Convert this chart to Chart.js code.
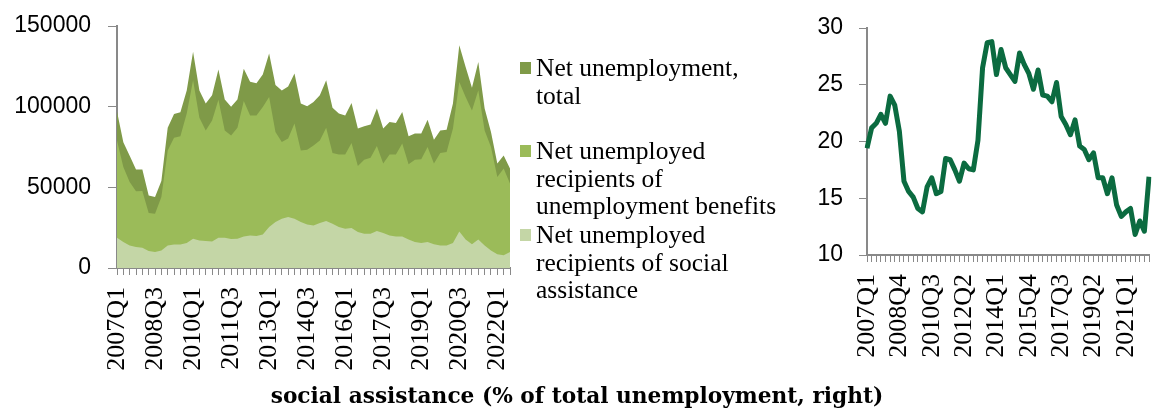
<!DOCTYPE html>
<html>
<head>
<meta charset="utf-8">
<script src="https://cdn.jsdelivr.net/npm/chart.js@4.4.1/dist/chart.umd.min.js"></script>
<style>
  html, body { margin: 0; padding: 0; background: #fff; }
  #wrap { position: relative; width: 1154px; height: 410px; overflow: hidden; }
  #left { position: absolute; left: 0; top: 0; }
  #right { position: absolute; left: 780px; top: 0; }
  .item { position: absolute; left: 520px; font-family: "Liberation Serif", serif; font-size: 25.5px; line-height: 27.5px; color: #000; }
  .item .sw { position: absolute; left: 0; top: 8px; width: 11px; height: 12px; }
  .item .tx { padding-left: 16px; white-space: nowrap; }
  #title { position: absolute; left: 0; top: 384px; width: 1154px; text-align: center; font-family: "DejaVu Serif", serif; font-weight: bold; font-size: 21.7px; line-height: 24px; color: #000; }
</style>
</head>
<body>
<div id="wrap">
  <canvas id="left" width="530" height="410"></canvas>
  <canvas id="right" width="374" height="410"></canvas>

  <div class="item" style="top:54px"><span class="sw" style="background:#7f9a48"></span><div class="tx">Net unemployment,<br>total</div></div>
  <div class="item" style="top:137px"><span class="sw" style="background:#9bbb59"></span><div class="tx">Net unemployed<br>recipients of<br>unemployment benefits</div></div>
  <div class="item" style="top:221px"><span class="sw" style="background:#c4d6a6"></span><div class="tx">Net unemployed<br>recipients of social<br>assistance</div></div>

  <div id="title">social assistance (% of total unemployment, right)</div>
</div>
<script>
const quarters = [
  "2007Q1","2007Q2","2007Q3","2007Q4","2008Q1","2008Q2","2008Q3","2008Q4",
  "2009Q1","2009Q2","2009Q3","2009Q4","2010Q1","2010Q2","2010Q3","2010Q4",
  "2011Q1","2011Q2","2011Q3","2011Q4","2012Q1","2012Q2","2012Q3","2012Q4",
  "2013Q1","2013Q2","2013Q3","2013Q4","2014Q1","2014Q2","2014Q3","2014Q4",
  "2015Q1","2015Q2","2015Q3","2015Q4","2016Q1","2016Q2","2016Q3","2016Q4",
  "2017Q1","2017Q2","2017Q3","2017Q4","2018Q1","2018Q2","2018Q3","2018Q4",
  "2019Q1","2019Q2","2019Q3","2019Q4","2020Q1","2020Q2","2020Q3","2020Q4",
  "2021Q1","2021Q2","2021Q3","2021Q4","2022Q1","2022Q2","2022Q3"
];

const netTotal = [
  97000, 78000, 69500, 61000, 61000, 45000, 44000, 54000,
  87000, 95500, 96500, 110000, 134000, 110000, 102000, 107000,
  123000, 104500, 100000, 104500, 123500, 115500, 114500, 120000,
  133000, 113500, 110000, 112500, 120500, 101900, 100200, 102900,
  107000, 116300, 99400, 95700, 94600, 102300, 86400, 87800,
  89000, 98800, 86400, 90500, 89900, 96700, 81600, 83300,
  83300, 91900, 79500, 85300, 85700, 101900, 138000, 124600,
  111800, 127700, 98800, 84300, 64700, 69800, 61600
];

const unemploymentBenefits = [
  79100, 62600, 53300, 47500, 47700, 34100, 33700, 44000,
  72900, 80800, 81600, 95700, 116300, 93200, 85300, 91500,
  104300, 85300, 82200, 87000, 103500, 94600, 94600, 99800,
  106000, 84300, 78100, 80200, 89500, 72900, 73300, 76000,
  79100, 87000, 71300, 70400, 70400, 77500, 63200, 67100,
  68400, 75600, 64700, 70400, 70400, 77100, 64300, 67100,
  67400, 75000, 64700, 71300, 71900, 86400, 115300, 106000,
  97700, 110100, 85300, 75000, 56400, 61600, 52300
];

const socialAssistance = [
  18800, 16100, 14000, 13000, 12600, 10500, 9900, 10900,
  14000, 14500, 14500, 15500, 18200, 17100, 16700, 16500,
  18800, 18800, 18000, 18200, 19600, 20200, 19800, 20700,
  25400, 28500, 30600, 31600, 30600, 28500, 27000, 26400,
  27900, 29100, 27500, 25400, 24400, 24800, 22300, 21300,
  21300, 22900, 21700, 20200, 19600, 19600, 17600, 16100,
  15500, 16100, 14700, 14000, 14000, 15500, 22700, 17600,
  14700, 17600, 14000, 10900, 8500, 7900, 9900
];

// share of social assistance in total unemployment, %
const socialShare = [
  19.4, 21.2, 21.6, 22.4, 21.6, 24.0, 23.2, 20.9,
  16.5, 15.6, 15.1, 14.1, 13.8, 16.0, 16.8, 15.4,
  15.6, 18.5, 18.4, 17.5, 16.5, 18.1, 17.6, 17.5,
  20.1, 26.5, 28.7, 28.8, 25.9, 28.1, 26.5, 25.9,
  25.3, 27.8, 26.8, 26.0, 24.6, 26.3, 24.1, 24.0,
  23.5, 25.2, 22.2, 21.5, 20.6, 21.9, 19.6, 19.3,
  18.4, 19.0, 16.8, 16.8, 15.4, 16.8, 14.4, 13.4,
  13.8, 14.1, 11.8, 13.0, 12.1, 16.9
];

const axisGrey = '#898989';
const sansFont = { family: 'Liberation Sans', size: 23 };
const serifFont = { family: 'Liberation Serif', size: 26 };

const area = (label, data, color) => ({
  label: label,
  data: data,
  backgroundColor: color,
  borderWidth: 0,
  pointRadius: 0,
  fill: 'origin',
  tension: 0
});

// keep the plot box where we put it, no extra room for edge labels
const fixX = h => s => { s.height = h; s.paddingLeft = 0; s.paddingRight = 0; };
const fixY = w => s => { s.width = w; s.paddingTop = 0; s.paddingBottom = 0; };

new Chart(document.getElementById('left'), {
  type: 'line',
  data: {
    labels: quarters,
    datasets: [
      area('Net unemployed recipients of social assistance', socialAssistance, '#c4d6a6'),
      area('Net unemployed recipients of unemployment benefits', unemploymentBenefits, '#9bbb59'),
      area('Net unemployment, total', netTotal, '#7f9a48')
    ]
  },
  options: {
    responsive: false,
    animation: false,
    layout: { padding: { top: 26, right: 20, left: 0, bottom: 0 } },
    plugins: { legend: { display: false }, tooltip: { enabled: false } },
    scales: {
      x: {
        offset: false,
        grid: { drawOnChartArea: false, tickLength: 7, color: axisGrey },
        border: { color: axisGrey, width: 2 },
        ticks: {
          autoSkip: false, minRotation: 90, maxRotation: 90, padding: 12,
          color: '#000', font: serifFont,
          callback: (v, i) => i % 6 === 0 ? quarters[i] : ''
        },
        afterFit: fixX(142)
      },
      y: {
        min: 0, max: 150000,
        grid: { drawOnChartArea: false, tickLength: 9, color: axisGrey },
        border: { color: axisGrey, width: 2 },
        ticks: { stepSize: 50000, padding: 17, color: '#000', font: sansFont, callback: v => String(v) },
        afterFit: fixY(117)
      }
    }
  }
});

const shareLabels = quarters.slice(0, socialShare.length);

new Chart(document.getElementById('right'), {
  type: 'line',
  data: {
    labels: shareLabels,
    datasets: [{
      label: 'social assistance (% of total unemployment, right)',
      data: socialShare,
      borderColor: '#0b6b40',
      borderWidth: 5,
      borderJoinStyle: 'round',
      pointRadius: 0,
      fill: false,
      tension: 0
    }]
  },
  options: {
    responsive: false,
    animation: false,
    layout: { padding: { top: 28, right: 5, left: 0, bottom: 0 } },
    plugins: { legend: { display: false }, tooltip: { enabled: false } },
    scales: {
      x: {
        offset: false,
        grid: { drawOnChartArea: false, tickLength: 7, color: axisGrey },
        border: { color: axisGrey, width: 2 },
        ticks: {
          autoSkip: false, minRotation: 90, maxRotation: 90, padding: 12,
          color: '#000', font: serifFont,
          callback: (v, i) => i % 7 === 0 ? shareLabels[i] : ''
        },
        afterFit: fixX(155)
      },
      y: {
        min: 10, max: 30,
        grid: { drawOnChartArea: false, tickLength: 8, color: axisGrey },
        border: { color: axisGrey, width: 2 },
        ticks: { stepSize: 5, padding: 16, color: '#000', font: sansFont },
        afterFit: fixY(87)
      }
    }
  }
});
</script>
</body>
</html>
